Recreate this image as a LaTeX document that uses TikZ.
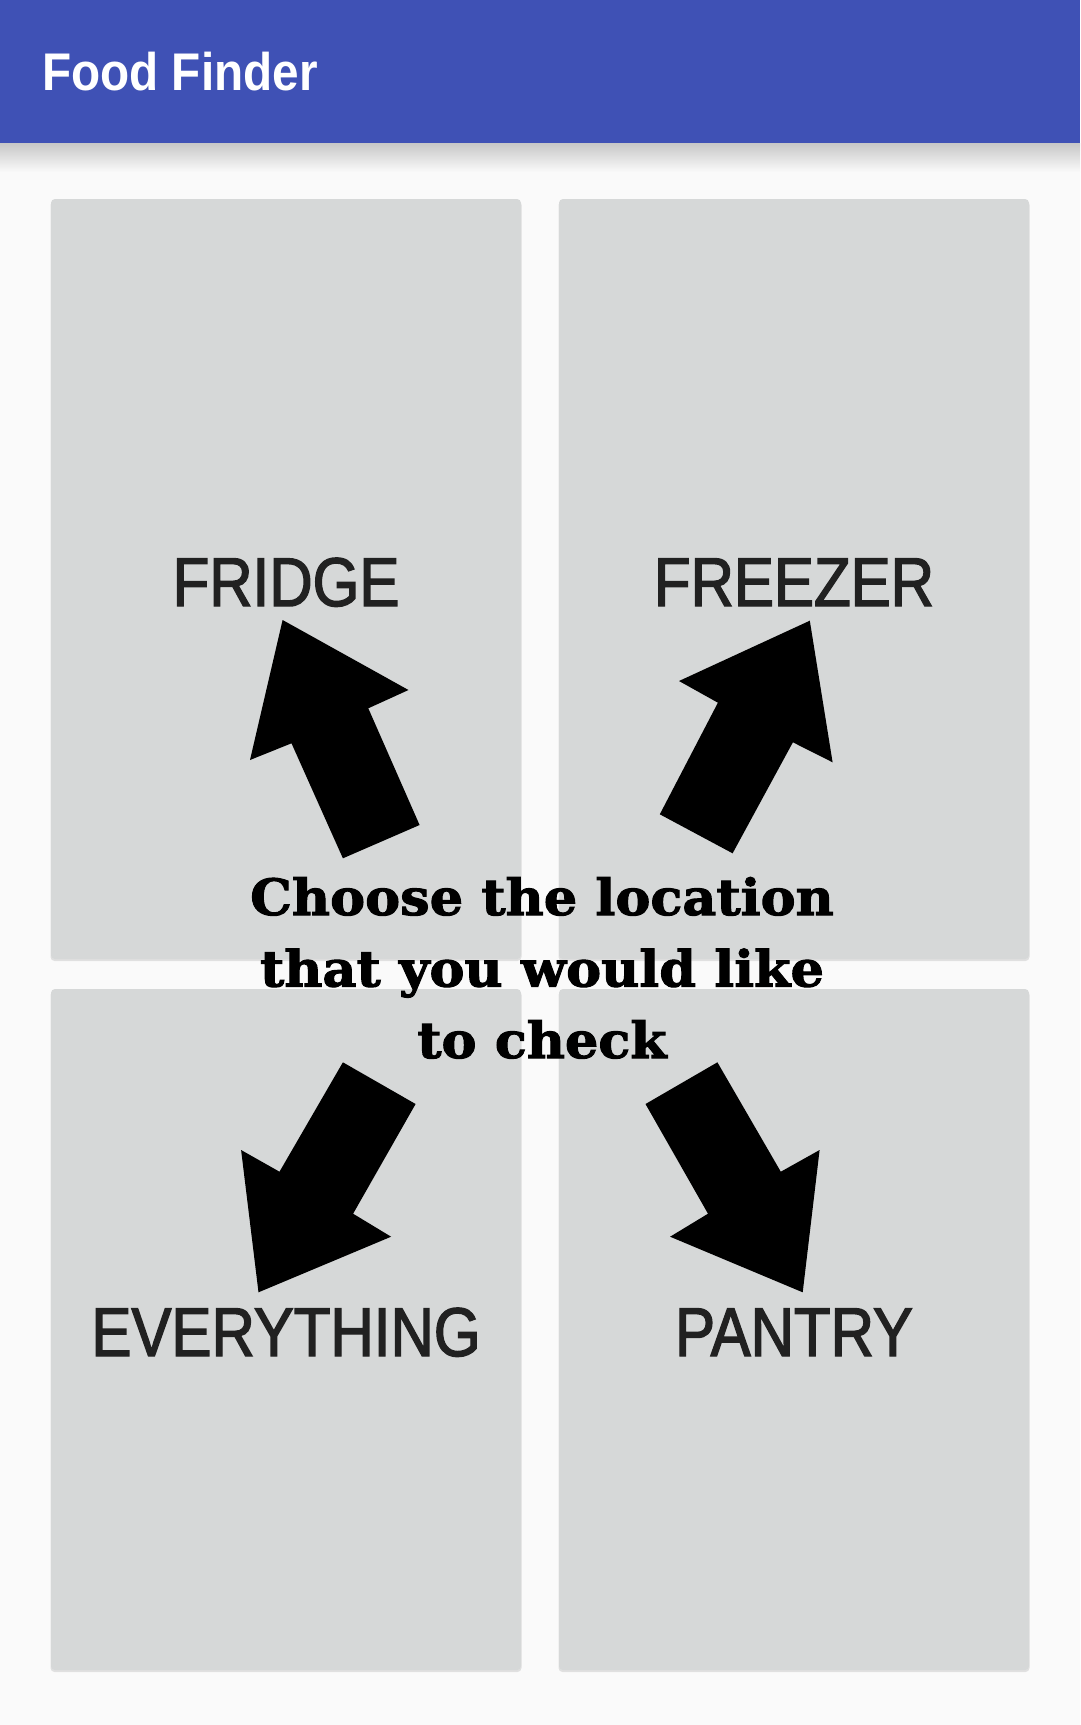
\documentclass[tikz,border=0pt]{standalone}
\usepackage{fontspec}
\newfontfamily\labelfont[FakeStretch=0.87,FakeBold=2]{Liberation Sans}
\newfontfamily\titlefont[FakeStretch=0.9]{Liberation Sans}
\newfontfamily\slabfont[FakeStretch=1.05,FakeBold=2]{DejaVu Serif}
\definecolor{appbar}{HTML}{3F51B5}
\definecolor{pagebg}{HTML}{FAFAFA}
\definecolor{cardgrey}{RGB}{214,216,216}
\definecolor{labeltext}{HTML}{212121}
\tikzset{
  card/.style={fill=cardgrey, rounded corners=4pt, inner sep=0pt, outer sep=0pt},
  cardshadow/.style={fill=black, fill opacity=0.10, rounded corners=4pt, inner sep=0pt, outer sep=0pt},
  cardlabel/.style={anchor=base, inner sep=0pt, text=labeltext, font=\labelfont\fontsize{69}{69}\selectfont},
  question/.style={anchor=base, inner sep=0pt, text=black, font=\slabfont\bfseries\fontsize{50}{50}\selectfont},
  arrowshape/.style={fill=black}
}
\begin{document}
\begin{tikzpicture}[x=1pt,y=-1pt]
\useasboundingbox (0,0) rectangle (1080,1725);
\fill[pagebg] (0,0) rectangle (1080,1725);
% app bar shadow
\shade[top color=black!22, bottom color=pagebg] (0,143) rectangle (1080,172);
\fill[appbar] (0,0) rectangle (1080,143);
\node[anchor=base west, inner sep=0pt, text=white, font=\titlefont\bfseries\fontsize{53}{53}\selectfont] (title) at (42,90) {Food Finder};
% card shadows
\node[cardshadow, minimum width=471pt, minimum height=760pt] (fridgeshadow) at (286,581) {};
\node[cardshadow, minimum width=471pt, minimum height=760pt] (freezershadow) at (794,581) {};
\node[cardshadow, minimum width=471pt, minimum height=681pt] (everythingshadow) at (286,1331.5) {};
\node[cardshadow, minimum width=471pt, minimum height=681pt] (pantryshadow) at (794,1331.5) {};
% cards
\node[card, minimum width=470pt, minimum height=760pt] (fridgecard) at (286,579) {};
\node[card, minimum width=470pt, minimum height=760pt] (freezercard) at (794,579) {};
\node[card, minimum width=470pt, minimum height=681pt] (everythingcard) at (286,1329.5) {};
\node[card, minimum width=470pt, minimum height=681pt] (pantrycard) at (794,1329.5) {};
% labels
\node[cardlabel] (fridge) at (286,606) {FRIDGE};
\node[cardlabel] (freezer) at (794,606) {FREEZER};
\node[cardlabel] (everything) at (286,1356) {EVERYTHING};
\node[cardlabel] (pantry) at (794,1356) {PANTRY};
% arrows
\fill[arrowshape] (282.6,620) -- (408.5,690) -- (368.3,708.3) -- (419.6,825) -- (342.9,858.3) -- (291.5,743.3) -- (250,760) -- cycle;
\fill[arrowshape] (809.8,620.7) -- (832.6,762.3) -- (792.9,742.3) -- (732.6,853.3) -- (659.8,814.3) -- (717.9,702.7) -- (679,681) -- cycle;
\fill[arrowshape] (258.5,1292.3) -- (391.1,1236.7) -- (353.1,1213.7) -- (415.6,1104) -- (342.9,1062.3) -- (279.5,1171.7) -- (241.1,1150) -- cycle;
\fill[arrowshape] (802.7,1292.3) -- (670.1,1236.7) -- (708,1213.7) -- (645.5,1104) -- (717.4,1062.3) -- (780.8,1171.7) -- (819.6,1150) -- cycle;
% question
\node[question] (q1) at (542,915) {Choose the location};
\node[question] (q2) at (542,986.5) {that you would like};
\node[question] (q3) at (542,1058) {to check};
\end{tikzpicture}
\end{document}
